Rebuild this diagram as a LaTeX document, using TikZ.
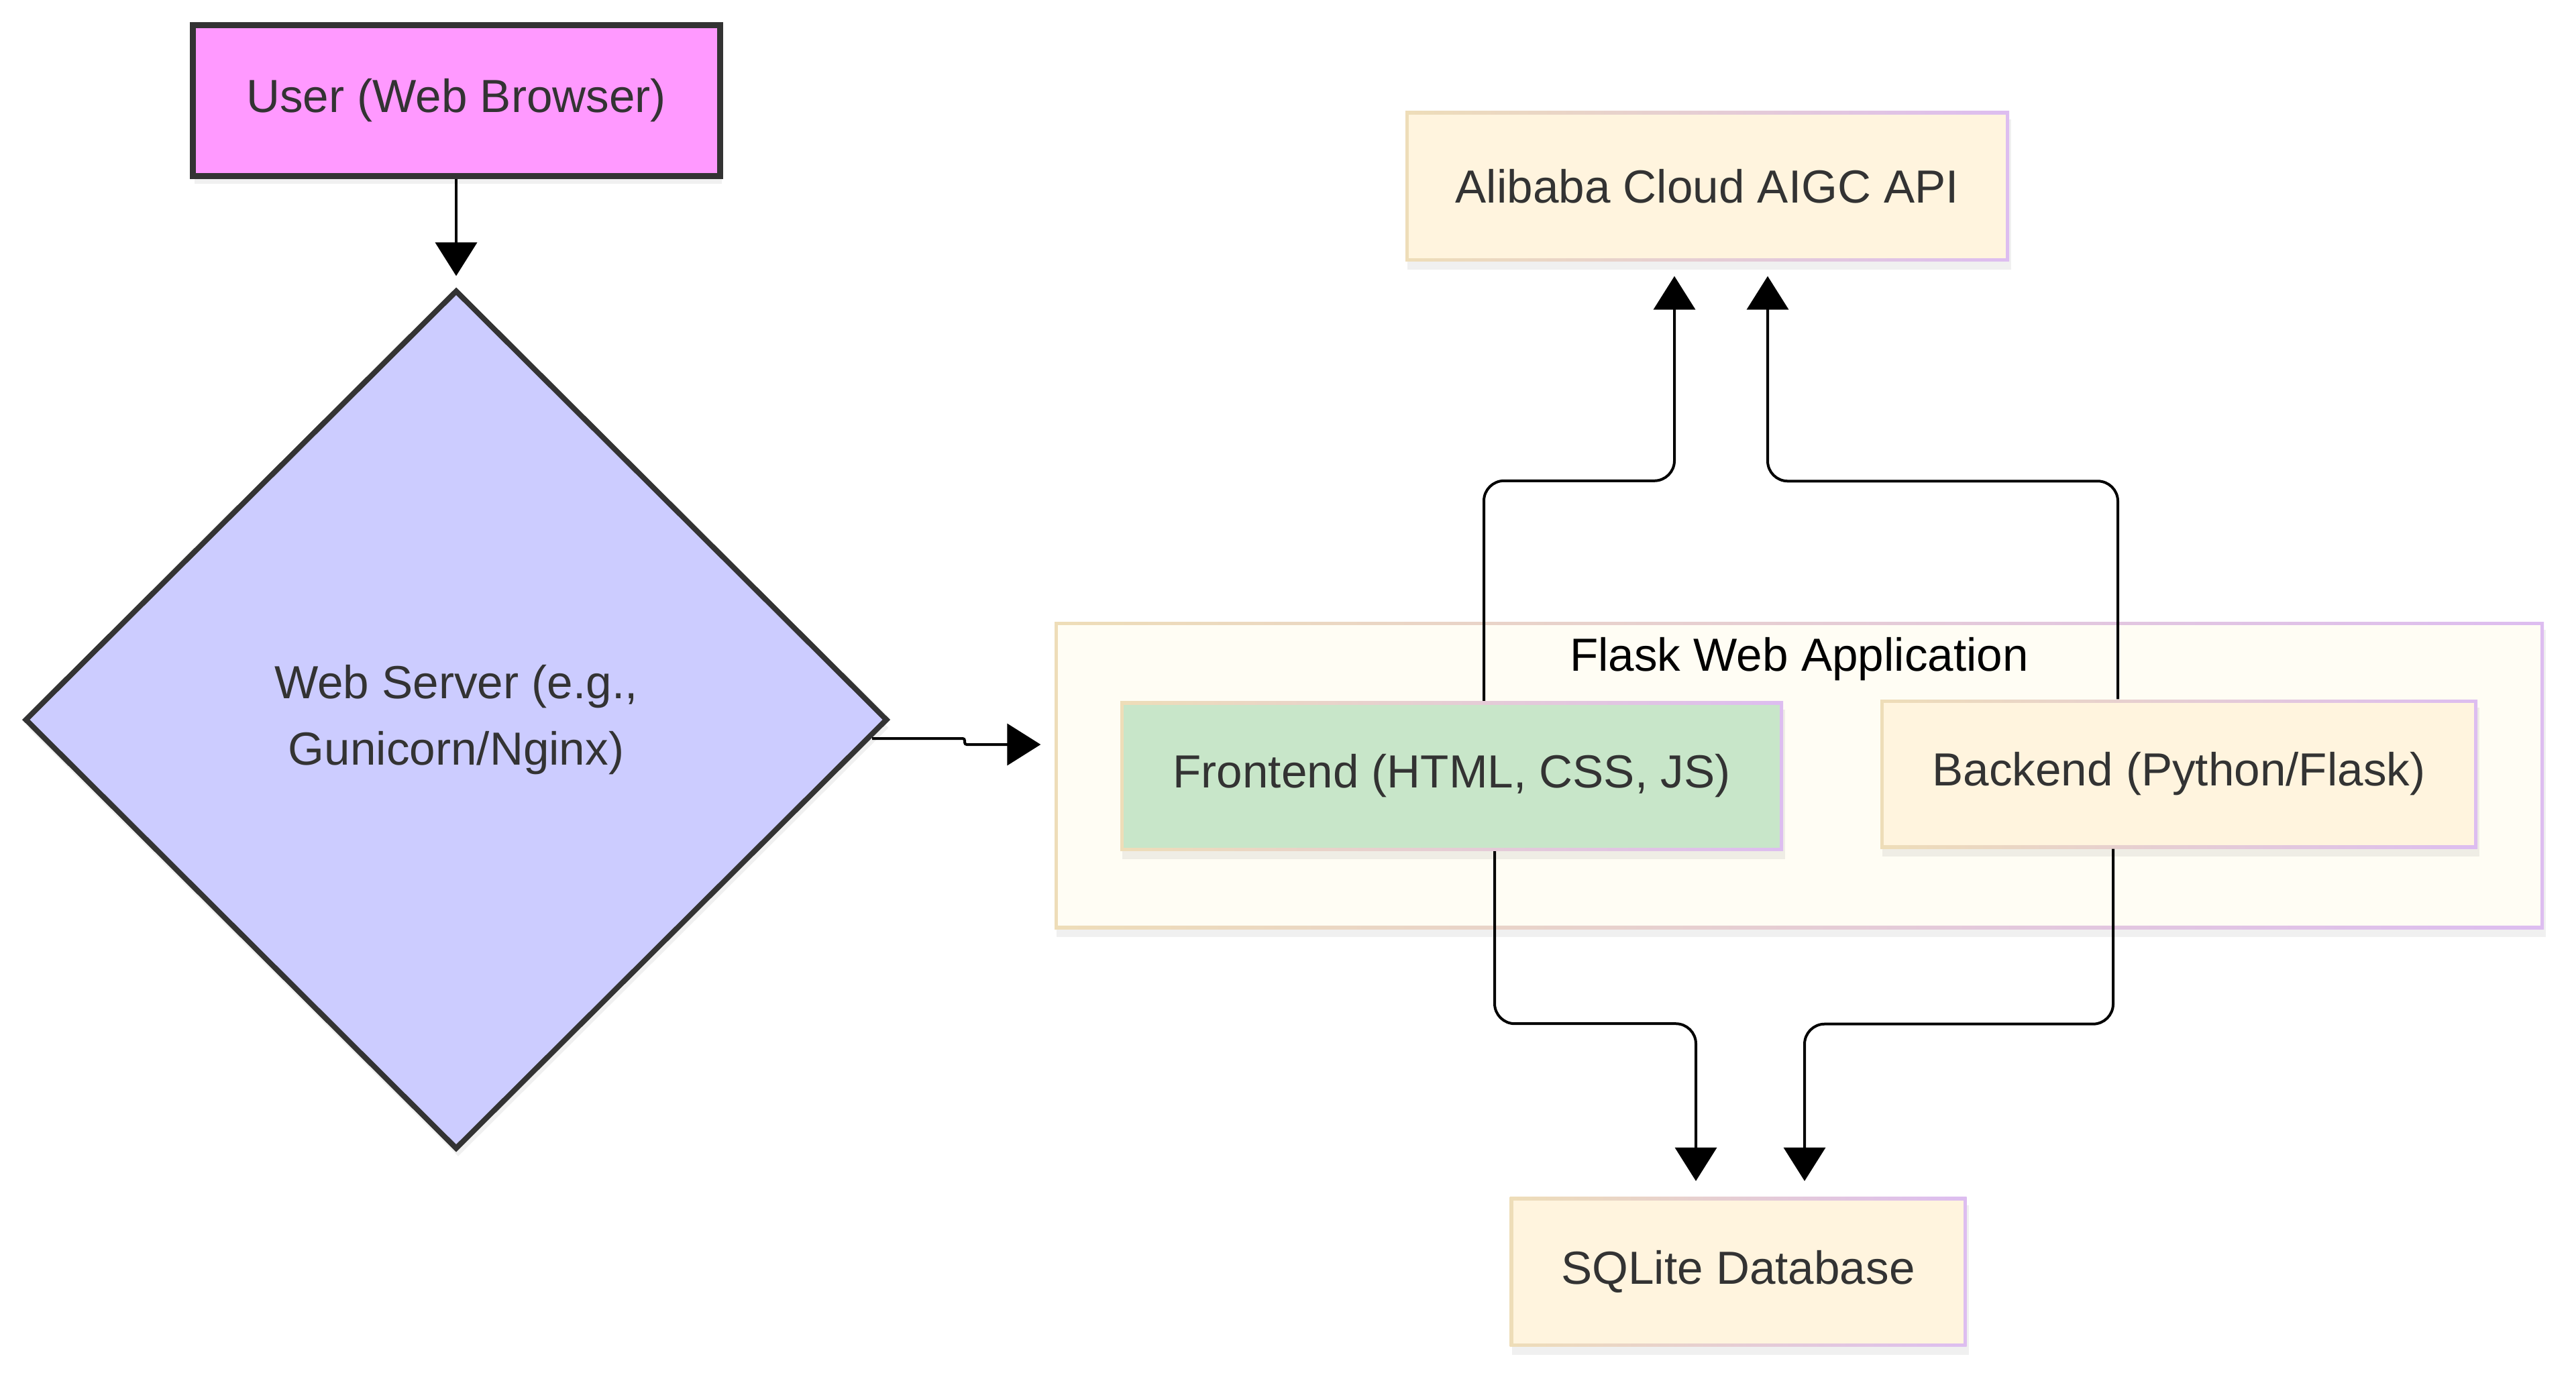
\documentclass[tikz,border=0pt]{standalone}
\usepackage{fontspec}
\setmainfont{Liberation Sans}
\usetikzlibrary{shapes.geometric,arrows.meta,shadows}

\definecolor{userpink}{HTML}{FF99FF}
\definecolor{serverblue}{HTML}{CCCCFF}
\definecolor{edgedark}{HTML}{333333}
\definecolor{cream}{HTML}{FFF4DE}
\definecolor{flaskbg}{HTML}{FFFDF4}
\definecolor{frontgreen}{HTML}{C8E6C9}
\definecolor{edgetan}{HTML}{EEDDB8}
\definecolor{edgelilac}{HTML}{DDBDF0}

\begin{document}
\begin{tikzpicture}[
  font=\fontsize{19.7}{30}\selectfont,
  shadowed/.style={drop shadow={opacity=0.12, shadow xshift=0.03cm, shadow yshift=-0.12cm}},
  pastel/.style={rectangle, inner sep=0pt, text=edgedark, shadowed,
    left color=edgetan, right color=edgelilac,
    path picture={\fill[#1] ([shift={(0.05,0.05)}]path picture bounding box.south west)
      rectangle ([shift={(-0.05,-0.05)}]path picture bounding box.north east);}},
  arr/.style={-{Triangle[length=0.5cm,width=0.62cm]}, line width=0.04cm, rounded corners=0.3cm},
]
\useasboundingbox (0,0) rectangle (38.4,-20.5);

% left column
\node[draw=edgedark, line width=0.09cm, fill=userpink, text=edgedark, shadowed,
  minimum width=7.86cm, minimum height=2.25cm] (user) at (6.80,-1.50) {User (Web Browser)};
\node[diamond, shape aspect=1, draw=edgedark, line width=0.08cm, fill=serverblue, text=edgedark,
  shadowed, minimum width=12.86cm, minimum height=12.81cm, inner sep=0pt, align=center]
  (server) at (6.80,-10.73) {\raisebox{-0.06cm}{Web Server (e.g.,}\\Gunicorn/Nginx)};

% flask application
\node[pastel=flaskbg, minimum width=22.20cm, minimum height=4.58cm] (flask) at (26.82,-11.56) {};
\node[text=black] (flasktitle) at ([yshift=-0.56cm]flask.north) {Flask Web Application};
\node[pastel=frontgreen, minimum width=9.88cm, minimum height=2.23cm] (frontend) at (21.64,-11.57) {Frontend (HTML, CSS, JS)};
\node[pastel=cream, minimum width=8.90cm, minimum height=2.22cm] (backend) at (32.48,-11.54) {Backend (Python/Flask)};

% services
\node[pastel=cream, minimum width=9.00cm, minimum height=2.24cm] (aigc) at (25.45,-2.78) {Alibaba Cloud AIGC API};
\node[pastel=cream, minimum width=6.81cm, minimum height=2.23cm] (sqlite) at (25.91,-18.96) {SQLite Database};

\draw[arr, shorten >=0.17cm] (user) -- (server);
\draw[arr, rounded corners=0.03cm, shorten >=0.2cm] ([shift={(-0.27,-0.28)}]server.east) -- ++(1.38,0) |- ([yshift=0.46cm]flask.west);
\draw[arr, shorten >=0.21cm] ([xshift=0.48cm]frontend.north) -- ++(0,3.28) -| ([xshift=-0.49cm]aigc.south);
\draw[arr, shorten >=0.21cm] ([xshift=-0.91cm]backend.north) -- ++(0,3.25) -| ([xshift=0.90cm]aigc.south);
\draw[arr, shorten >=0.23cm] ([xshift=0.64cm]frontend.south) -- ++(0,-2.57) -| ([xshift=-0.63cm]sqlite.north);
\draw[arr, shorten >=0.23cm] ([xshift=-0.98cm]backend.south) -- ++(0,-2.61) -| ([xshift=0.99cm]sqlite.north);

\end{tikzpicture}
\end{document}
